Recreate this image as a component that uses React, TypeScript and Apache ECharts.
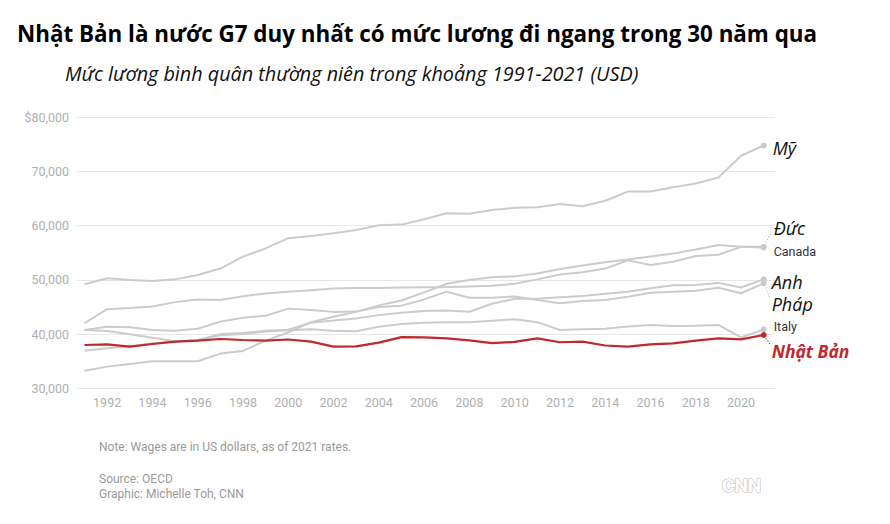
import React, { useEffect, useRef } from "react";
import * as echarts from "echarts";

const years = [
  1991, 1992, 1993, 1994, 1995, 1996, 1997, 1998, 1999, 2000,
  2001, 2002, 2003, 2004, 2005, 2006, 2007, 2008, 2009, 2010,
  2011, 2012, 2013, 2014, 2015, 2016, 2017, 2018, 2019, 2020, 2021,
];
const yearTicks = [1992, 1994, 1996, 1998, 2000, 2002, 2004, 2006, 2008, 2010, 2012, 2014, 2016, 2018, 2020];

const usa = [49200, 50300, 50000, 49800, 50100, 50900, 52100, 54300, 55800, 57700,
  58100, 58600, 59200, 60100, 60200, 61200, 62300, 62200, 62900, 63300,
  63400, 64000, 63600, 64600, 66300, 66300, 67100, 67800, 68900, 72900, 74800];
const germany = [42000, 44600, 44800, 45100, 45900, 46400, 46300, 47000, 47500, 47800,
  48100, 48400, 48500, 48500, 48600, 48650, 48700, 48800, 48900, 49300,
  50100, 51000, 51400, 52100, 53600, 52750, 53350, 54400, 54650, 56100, 56100];
const canada = [33250, 34000, 34500, 35000, 35000, 35000, 36400, 36900, 38800, 40300,
  42200, 43200, 44100, 45300, 46200, 47700, 49300, 50000, 50500, 50650,
  51200, 52000, 52650, 53250, 53750, 54300, 54850, 55600, 56450, 56100, 56000];
const uk = [36940, 37400, 37700, 38300, 38600, 38900, 40000, 40200, 40600, 40800,
  42100, 42500, 42900, 43500, 43950, 44250, 44350, 44130, 45600, 46500,
  46500, 46800, 47050, 47450, 47830, 48450, 49000, 49060, 49450, 48600, 50100];
const france = [40760, 41370, 41250, 40760, 40630, 41000, 42300, 43000, 43400, 44700,
  44450, 44100, 44150, 45000, 45250, 46400, 47830, 46700, 46700, 46950,
  46300, 45700, 46100, 46300, 46900, 47640, 47830, 48000, 48550, 47530, 49370];
const italy = [40760, 40570, 39960, 39340, 38670, 38800, 39800, 40000, 40500, 40700,
  40880, 40630, 40510, 41370, 41860, 42110, 42200, 42200, 42470, 42750,
  42200, 40760, 40880, 41000, 41400, 41680, 41500, 41550, 41680, 39380, 40880];
const japan = [37990, 38110, 37680, 38170, 38600, 38790, 39100, 38910, 38800, 39000,
  38600, 37680, 37750, 38420, 39450, 39410, 39220, 38850, 38350, 38550,
  39200, 38500, 38600, 37900, 37680, 38110, 38300, 38790, 39220, 39040, 39830];

const countries = [
  { name: "Mỹ", values: usa },
  { name: "Đức", values: germany },
  { name: "Canada", values: canada },
  { name: "Anh", values: uk },
  { name: "Pháp", values: france },
  { name: "Italy", values: italy },
  { name: "Nhật Bản", values: japan },
];

const titleText = "Nhật Bản là nước G7 duy nhất có mức lương đi ngang trong 30 năm qua";
const subtitleText = "Mức lương bình quân thường niên trong khoảng 1991-2021 (USD)";
const noteText = "Note: Wages are in US dollars, as of 2021 rates.";
const sourceText = "Source: OECD";
const creditText = "Graphic: Michelle Toh, CNN";

const GRAY = "#cccccc";
const RED = "#c1272d";
const HEAD_FONT = "'Open Sans', 'Noto Sans', sans-serif";
const AXIS_FONT = "Roboto, 'Liberation Sans', sans-serif";

// label styling per series: offset from the end point
const labelStyles: Record<string, any> = {
  "Mỹ": { dx: 9, dy: 3, size: 18, italic: true, bold: false, color: "#111", font: HEAD_FONT },
  "Đức": { dx: 10, dy: -19, size: 18, italic: true, bold: false, color: "#111", font: HEAD_FONT, leader: [2, -4, 7, -13] },
  "Canada": { dx: 10, dy: 4, size: 12.5, italic: false, bold: false, color: "#333", font: AXIS_FONT },
  "Anh": { dx: 8, dy: 2.5, size: 18, italic: true, bold: false, color: "#111", font: HEAD_FONT },
  "Pháp": { dx: 8, dy: 21, size: 18, italic: true, bold: false, color: "#111", font: HEAD_FONT, leader: [2, 4, 6, 14] },
  "Italy": { dx: 10, dy: -3, size: 12.5, italic: false, bold: false, color: "#333", font: AXIS_FONT },
  "Nhật Bản": { dx: 8, dy: 16, size: 17.5, italic: true, bold: true, color: RED, font: HEAD_FONT, leader: [2, 3, 6, 9] },
};

export default function App() {
  const ref = useRef<HTMLDivElement>(null);
  useEffect(() => {
    if (!ref.current) return;
    const chart = echarts.init(ref.current, undefined, { renderer: "svg" });
    const last = years.length - 1;
    const series = countries.map((c) => {
      const isJapan = c.name === "Nhật Bản";
      return {
        name: c.name,
        type: "line",
        data: c.values.map((v, i) => [years[i], v]),
        showSymbol: true,
        showAllSymbol: true,
        symbol: "circle",
        symbolSize: (_v: any, p: any) => (p.dataIndex === last ? 6 : 0),
        itemStyle: { color: isJapan ? RED : "#c9c9c9" },
        lineStyle: { color: isJapan ? RED : GRAY, width: isJapan ? 2.2 : 2 },
        z: isJapan ? 5 : 2,
        silent: true,
      };
    });
    chart.setOption({
      animation: false,
      grid: { left: 76, right: 115, top: 117.3, bottom: 135.7, containLabel: false },
      xAxis: {
        type: "value",
        min: 1990.625,
        max: 2021.5,
        axisLine: { show: false },
        axisTick: { show: false },
        splitLine: { show: false },
        axisLabel: {
          customValues: yearTicks,
          formatter: (v: number) => String(v),
          color: "#b0b0b0",
          fontSize: 12.5,
          fontFamily: AXIS_FONT,
          margin: 8,
        },
      },
      yAxis: {
        type: "value",
        min: 30000,
        max: 80000,
        interval: 10000,
        axisLine: { show: false },
        axisTick: { show: false },
        splitLine: { lineStyle: { color: "#e6e6e6", width: 1 } },
        axisLabel: {
          formatter: (v: number) => (v === 80000 ? "$" : "") + v.toLocaleString("en-US"),
          color: "#b0b0b0",
          fontSize: 12.5,
          fontFamily: AXIS_FONT,
          margin: 7,
        },
      },
      series,
    });

    const graphics: any[] = [
      {
        type: "text", x: 17, y: 33, silent: true,
        style: { text: titleText, fontSize: 22.4, fontWeight: "bold", fontFamily: HEAD_FONT, fill: "#000", verticalAlign: "middle" },
      },
      {
        type: "text", x: 65, y: 73, silent: true,
        style: { text: subtitleText, fontSize: 19.8, fontStyle: "italic", fontFamily: HEAD_FONT, fill: "#111", verticalAlign: "middle" },
      },
      {
        type: "text", x: 99, y: 447, silent: true,
        style: { text: noteText, fontSize: 12, fontFamily: AXIS_FONT, fill: "#9a9a9a", verticalAlign: "middle" },
      },
      {
        type: "text", x: 99, y: 479, silent: true,
        style: { text: sourceText, fontSize: 12, fontFamily: AXIS_FONT, fill: "#9a9a9a", verticalAlign: "middle" },
      },
      {
        type: "text", x: 99, y: 494, silent: true,
        style: { text: creditText, fontSize: 12, fontFamily: AXIS_FONT, fill: "#9a9a9a", verticalAlign: "middle" },
      },
      {
        type: "text", x: 722, y: 485, silent: true,
        style: { text: "CNN", fontSize: 19, fontWeight: "bold", fontFamily: AXIS_FONT, fill: "#ffffff", stroke: "#bdbdbd", lineWidth: 1.2, verticalAlign: "middle" },
      },
    ];

    countries.forEach((c) => {
      const s = labelStyles[c.name];
      const p = chart.convertToPixel({ gridIndex: 0 }, [years[last], c.values[last]]) as number[];
      if (!p) return;
      if (s.leader) {
        const [x1, y1, x2, y2] = s.leader;
        graphics.push({
          type: "line", silent: true, z: 1,
          shape: { x1: p[0] + x1, y1: p[1] + y1, x2: p[0] + x2, y2: p[1] + y2 },
          style: { stroke: c.name === "Nhật Bản" ? RED : "#bbbbbb", lineWidth: 1, lineDash: [1.5, 1.5] },
        });
      }
      graphics.push({
        type: "text", silent: true,
        x: p[0] + s.dx, y: p[1] + s.dy,
        style: {
          text: c.name,
          fontSize: s.size,
          fontStyle: s.italic ? "italic" : "normal",
          fontWeight: s.bold ? "bold" : "normal",
          fontFamily: s.font,
          fill: s.color,
          verticalAlign: "middle",
        },
      });
    });

    chart.setOption({ graphic: graphics });
    return () => chart.dispose();
  }, []);
  return (
    <div
      ref={ref}
      style={{ position: "fixed", left: 0, top: 0, width: 890, height: 524, background: "#fff" }}
    />
  );
}
